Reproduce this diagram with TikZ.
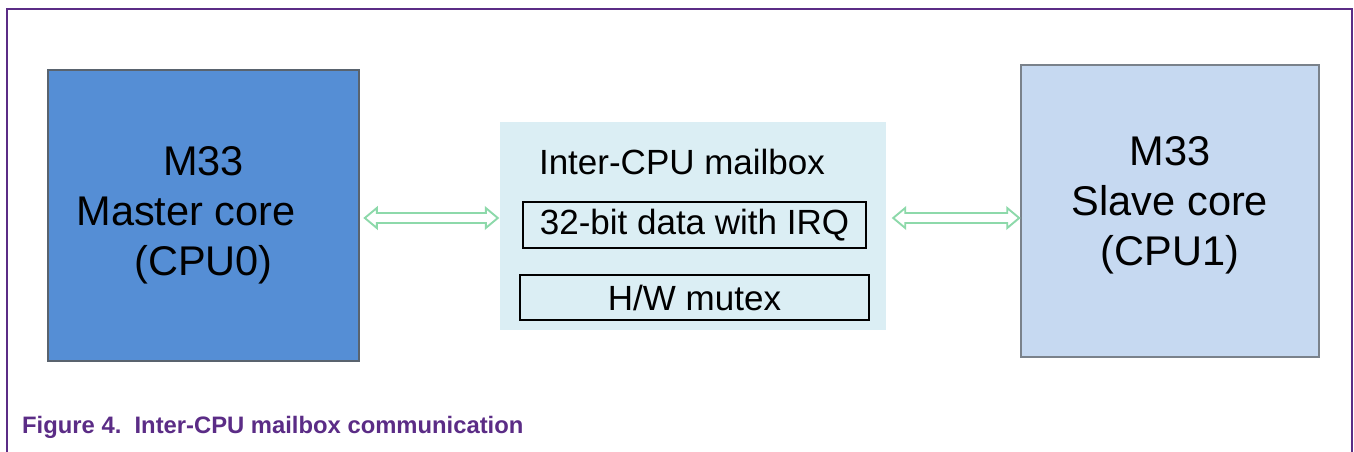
\documentclass[tikz,border=0pt]{standalone}
\usepackage{fontspec}
\setmainfont{Liberation Sans}
\usetikzlibrary{calc}
\definecolor{nxppurple}{HTML}{5B2C86}
\definecolor{masterblue}{HTML}{558ED5}
\definecolor{slaveblue}{HTML}{C6D9F1}
\definecolor{mailbg}{HTML}{DBEEF4}
\definecolor{arrgreen}{HTML}{8DD9AA}
\definecolor{boxedge}{HTML}{59636E}
\tikzset{
  corebox/.style={draw=boxedge, line width=1.6pt, minimum width=311pt, minimum height=291pt, inner sep=0pt},
  coretext/.style={align=center, font=\fontsize{41.5}{50}\selectfont, inner sep=0pt},
  regbox/.style={draw=black, line width=1.4pt, fill=mailbg, inner sep=0pt, font=\fontsize{35}{40}\selectfont},
  hollowarr/.style={draw=arrgreen, line width=1.9pt, fill=white, line join=miter},
}
\newcommand{\hollowarrow}[2]{%
  \draw[hollowarr] let \p1=(#1), \p2=(#2) in
    (\x1,\y1) -- (\x1+12,\y1+10) -- (\x1+12,\y1+5) -- (\x2-12,\y1+5) -- (\x2-12,\y1+10)
    -- (\x2,\y1) -- (\x2-12,\y1-10) -- (\x2-12,\y1-5) -- (\x1+12,\y1-5) -- (\x1+12,\y1-10) -- cycle;}
\begin{document}
\begin{tikzpicture}[x=1pt, y=-1pt]
\useasboundingbox (0,0) rectangle (1354,452);
\fill[white] (0,0) rectangle (1354,452);
% frame
\draw[nxppurple, line width=2pt] (6.5,452) -- (6.5,9.5) -- (1352,9.5) -- (1352,452);
% master core
\node[corebox, fill=masterblue] (master) at (203.5,215.5) {};
\node[coretext] (mastertxt) at (203.5,215) {M33\\Master core\rule{35pt}{0pt}\\(CPU0)};
% slave core
\node[corebox, draw=boxedge!80, fill=slaveblue, minimum width=298pt, minimum height=292pt] (slave) at (1170,211) {};
\node[coretext] (slavetxt) at (1170,205) {M33\\Slave core\\(CPU1)};
% mailbox
\node[fill=mailbg, minimum width=386pt, minimum height=208pt, inner sep=0pt] (mailbox) at (693,226) {};
\node[font=\fontsize{35}{40}\selectfont, inner sep=0pt] (mailtitle) at (682,162) {Inter-CPU mailbox};
\node[regbox, minimum width=343pt, minimum height=46pt] (data) at (694.5,225) {32-bit data with IRQ};
\node[regbox, minimum width=349pt, minimum height=45pt] (mutex) at (694.5,297.5) {H/W mutex};
% arrows
\coordinate (row) at (0,218);
\coordinate (a1s) at ($(master.east |- row)+(5,0)$);
\coordinate (a1e) at ($(mailbox.west |- row)+(-2,0)$);
\coordinate (a2s) at ($(mailbox.east |- row)+(7,0)$);
\coordinate (a2e) at ($(slave.west |- row)+(-1,0)$);
\hollowarrow{a1s}{a1e}
\hollowarrow{a2s}{a2e}
% caption
\node[anchor=base west, inner sep=0pt, text=nxppurple, font=\fontsize{23.8}{28}\selectfont\bfseries] (caption) at (22,433) {Figure 4.\ \ Inter-CPU mailbox communication};
\end{tikzpicture}
\end{document}
